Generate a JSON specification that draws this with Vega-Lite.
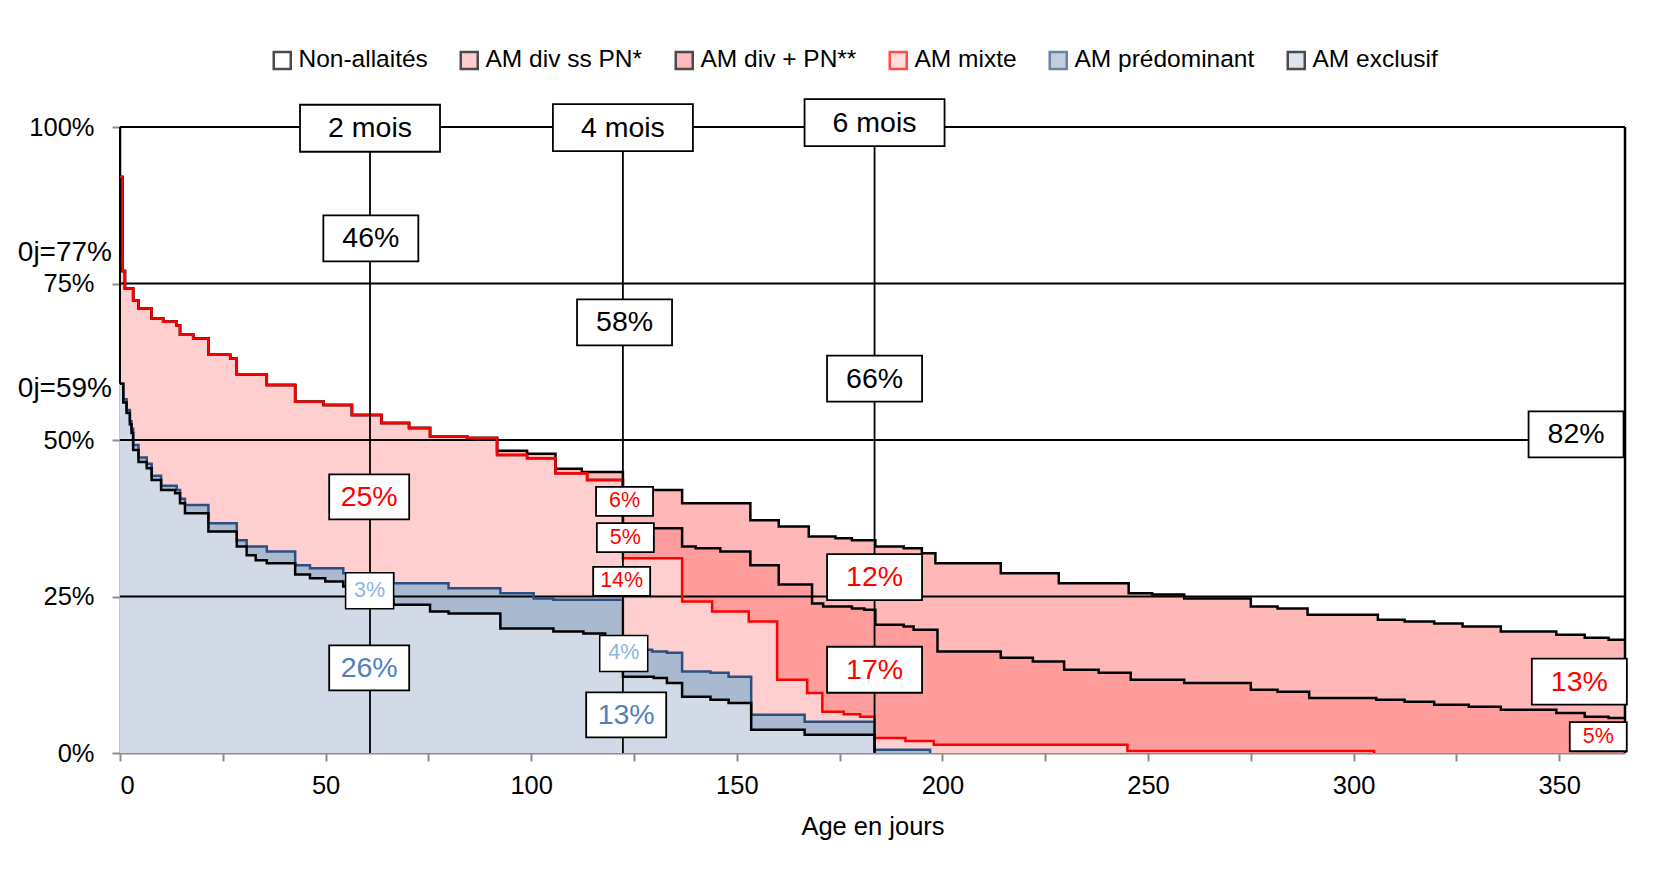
{
  "$schema": "https://vega.github.io/schema/vega-lite/v6.json",
  "width": 1505,
  "height": 626,
  "autosize": {"type": "none"},
  "padding": {"left": 120, "top": 127, "right": 53, "bottom": 139},
  "background": "white",
  "config": {
    "view": {"stroke": null},
    "font": "Liberation Sans",
    "axis": {
      "labelFont": "Liberation Sans", "labelFontSize": 25.5, "labelColor": "black",
      "titleFont": "Liberation Sans", "titleFontSize": 25.5, "titleFontWeight": "normal", "titleColor": "black",
      "domainColor": "#8c8c8c", "domainWidth": 2, "tickColor": "#8c8c8c", "tickWidth": 2, "tickSize": 8, "grid": false
    }
  },
  "datasets": {
    "curves": [
      {"s": "E", "d": 0, "v": 59}, {"s": "E", "d": 0.8, "v": 56}, {"s": "E", "d": 1.6, "v": 54.3}, {"s": "E", "d": 2.4, "v": 52.5}, {"s": "E", "d": 2.8, "v": 51.1}, {"s": "E", "d": 3.2, "v": 48.4}, {"s": "E", "d": 4.5, "v": 46.5}, {"s": "E", "d": 6.5, "v": 45.5}, {"s": "E", "d": 7.7, "v": 43.6}, {"s": "E", "d": 10, "v": 42.0}, {"s": "E", "d": 13.4, "v": 41.5}, {"s": "E", "d": 14.6, "v": 39.9}, {"s": "E", "d": 15.8, "v": 38.3}, {"s": "E", "d": 21.5, "v": 35.4}, {"s": "E", "d": 28.4, "v": 33.0}, {"s": "E", "d": 30.8, "v": 31.6}, {"s": "E", "d": 33, "v": 30.8}, {"s": "E", "d": 35.7, "v": 30.3}, {"s": "E", "d": 42.6, "v": 28.5}, {"s": "E", "d": 46.2, "v": 27.9}, {"s": "E", "d": 49.9, "v": 27.4}, {"s": "E", "d": 54.3, "v": 26.6}, {"s": "E", "d": 57, "v": 26.1}, {"s": "E", "d": 62, "v": 24.5}, {"s": "E", "d": 66.5, "v": 23.7}, {"s": "E", "d": 75.4, "v": 22.6}, {"s": "E", "d": 79.9, "v": 22.3}, {"s": "E", "d": 92.5, "v": 19.9}, {"s": "E", "d": 105.4, "v": 19.4}, {"s": "E", "d": 112.7, "v": 19.1}, {"s": "E", "d": 118, "v": 18.6}, {"s": "E", "d": 122.3, "v": 12.2}, {"s": "E", "d": 129.8, "v": 12.0}, {"s": "E", "d": 133, "v": 11.2}, {"s": "E", "d": 136.7, "v": 9.0}, {"s": "E", "d": 143.6, "v": 8.5}, {"s": "E", "d": 148, "v": 8.0}, {"s": "E", "d": 153.5, "v": 3.7}, {"s": "E", "d": 166.5, "v": 2.9}, {"s": "E", "d": 183.5, "v": 0},

      {"s": "P", "d": 0, "v": 59}, {"s": "P", "d": 0.8, "v": 56.5}, {"s": "P", "d": 1.6, "v": 54.8}, {"s": "P", "d": 2.4, "v": 53}, {"s": "P", "d": 2.8, "v": 51.8}, {"s": "P", "d": 3.2, "v": 49.2}, {"s": "P", "d": 4.5, "v": 47.2}, {"s": "P", "d": 6.5, "v": 46.2}, {"s": "P", "d": 7.7, "v": 44.3}, {"s": "P", "d": 10, "v": 42.7}, {"s": "P", "d": 13.8, "v": 42.0}, {"s": "P", "d": 14.6, "v": 40.6}, {"s": "P", "d": 15.8, "v": 39.6}, {"s": "P", "d": 21.5, "v": 36.7}, {"s": "P", "d": 28.4, "v": 34.0}, {"s": "P", "d": 30.8, "v": 33.0}, {"s": "P", "d": 35.7, "v": 32.2}, {"s": "P", "d": 42.6, "v": 30.0}, {"s": "P", "d": 46.2, "v": 29.5}, {"s": "P", "d": 54.3, "v": 28.7}, {"s": "P", "d": 66.5, "v": 27.1}, {"s": "P", "d": 79.9, "v": 26.3}, {"s": "P", "d": 92.5, "v": 25.5}, {"s": "P", "d": 100.6, "v": 24.7}, {"s": "P", "d": 105.4, "v": 24.5}, {"s": "P", "d": 122.3, "v": 16.5}, {"s": "P", "d": 129.4, "v": 16.2}, {"s": "P", "d": 133, "v": 16.0}, {"s": "P", "d": 136.7, "v": 13.0}, {"s": "P", "d": 143.6, "v": 12.8}, {"s": "P", "d": 148, "v": 12.2}, {"s": "P", "d": 153.5, "v": 6.1}, {"s": "P", "d": 166.5, "v": 5.0}, {"s": "P", "d": 183.5, "v": 0.5}, {"s": "P", "d": 197, "v": 0},

      {"s": "M", "d": 0, "v": 92}, {"s": "M", "d": 0.6, "v": 77}, {"s": "M", "d": 1.2, "v": 74.2}, {"s": "M", "d": 3.2, "v": 72.3}, {"s": "M", "d": 4.5, "v": 71.0}, {"s": "M", "d": 7.7, "v": 69.4}, {"s": "M", "d": 10.5, "v": 68.9}, {"s": "M", "d": 13.8, "v": 68.3}, {"s": "M", "d": 14.6, "v": 66.8}, {"s": "M", "d": 17.8, "v": 66.2}, {"s": "M", "d": 21.5, "v": 63.6}, {"s": "M", "d": 26.8, "v": 63.0}, {"s": "M", "d": 28.4, "v": 60.5}, {"s": "M", "d": 35.7, "v": 58.8}, {"s": "M", "d": 42.6, "v": 56.1}, {"s": "M", "d": 49.5, "v": 55.6}, {"s": "M", "d": 56.4, "v": 54.0}, {"s": "M", "d": 63.6, "v": 52.7}, {"s": "M", "d": 70.3, "v": 51.9}, {"s": "M", "d": 75.4, "v": 50.6}, {"s": "M", "d": 84.4, "v": 50.3}, {"s": "M", "d": 91.7, "v": 47.6}, {"s": "M", "d": 99, "v": 47.1}, {"s": "M", "d": 105.9, "v": 44.7}, {"s": "M", "d": 113.6, "v": 43.6}, {"s": "M", "d": 122.3, "v": 31.1}, {"s": "M", "d": 136.7, "v": 24.2}, {"s": "M", "d": 144, "v": 22.6}, {"s": "M", "d": 152.9, "v": 21.0}, {"s": "M", "d": 159.8, "v": 11.7}, {"s": "M", "d": 167.1, "v": 9.6}, {"s": "M", "d": 170.8, "v": 6.6}, {"s": "M", "d": 176, "v": 6.2}, {"s": "M", "d": 180, "v": 5.8}, {"s": "M", "d": 183.5, "v": 2.4}, {"s": "M", "d": 191, "v": 1.9}, {"s": "M", "d": 197.9, "v": 1.3}, {"s": "M", "d": 245, "v": 0.3}, {"s": "M", "d": 305, "v": 0},

      {"s": "D1", "d": 0, "v": 92}, {"s": "D1", "d": 0.6, "v": 77}, {"s": "D1", "d": 1.2, "v": 74.2}, {"s": "D1", "d": 3.2, "v": 72.3}, {"s": "D1", "d": 4.5, "v": 71.0}, {"s": "D1", "d": 7.7, "v": 69.4}, {"s": "D1", "d": 10.5, "v": 68.9}, {"s": "D1", "d": 13.8, "v": 68.3}, {"s": "D1", "d": 14.6, "v": 66.8}, {"s": "D1", "d": 17.8, "v": 66.2}, {"s": "D1", "d": 21.5, "v": 63.6}, {"s": "D1", "d": 26.8, "v": 63.0}, {"s": "D1", "d": 28.4, "v": 60.5}, {"s": "D1", "d": 35.7, "v": 58.8}, {"s": "D1", "d": 42.6, "v": 56.1}, {"s": "D1", "d": 49.5, "v": 55.6}, {"s": "D1", "d": 56.4, "v": 54.0}, {"s": "D1", "d": 63.6, "v": 52.7}, {"s": "D1", "d": 70.3, "v": 51.9}, {"s": "D1", "d": 75.4, "v": 50.6}, {"s": "D1", "d": 84.4, "v": 50.3}, {"s": "D1", "d": 91.7, "v": 47.6}, {"s": "D1", "d": 99, "v": 47.1}, {"s": "D1", "d": 105.9, "v": 44.7}, {"s": "D1", "d": 113.6, "v": 43.6}, {"s": "D1", "d": 122.3, "v": 35.9}, {"s": "D1", "d": 136.7, "v": 33.0}, {"s": "D1", "d": 140, "v": 32.7}, {"s": "D1", "d": 146, "v": 32.2}, {"s": "D1", "d": 153.3, "v": 30.0}, {"s": "D1", "d": 160.2, "v": 26.9}, {"s": "D1", "d": 168.3, "v": 23.9}, {"s": "D1", "d": 171, "v": 23.4}, {"s": "D1", "d": 178, "v": 23.1}, {"s": "D1", "d": 181, "v": 22.9}, {"s": "D1", "d": 183.7, "v": 20.5}, {"s": "D1", "d": 190.6, "v": 20.2}, {"s": "D1", "d": 193, "v": 19.7}, {"s": "D1", "d": 198.8, "v": 16.2}, {"s": "D1", "d": 214.2, "v": 15.2}, {"s": "D1", "d": 222, "v": 14.6}, {"s": "D1", "d": 229.6, "v": 13.3}, {"s": "D1", "d": 238, "v": 12.8}, {"s": "D1", "d": 245.8, "v": 11.7}, {"s": "D1", "d": 258.8, "v": 11.2}, {"s": "D1", "d": 275, "v": 10.1}, {"s": "D1", "d": 281.5, "v": 9.8}, {"s": "D1", "d": 289.2, "v": 8.8}, {"s": "D1", "d": 305.5, "v": 8.5}, {"s": "D1", "d": 312.4, "v": 8.2}, {"s": "D1", "d": 319.6, "v": 7.7}, {"s": "D1", "d": 328, "v": 7.4}, {"s": "D1", "d": 335.8, "v": 6.9}, {"s": "D1", "d": 349.3, "v": 6.4}, {"s": "D1", "d": 356.2, "v": 5.8}, {"s": "D1", "d": 362, "v": 5.6}, {"s": "D1", "d": 366, "v": 5.6},

      {"s": "D2", "d": 0, "v": 92}, {"s": "D2", "d": 0.6, "v": 77}, {"s": "D2", "d": 1.2, "v": 74.2}, {"s": "D2", "d": 3.2, "v": 72.3}, {"s": "D2", "d": 4.5, "v": 71.0}, {"s": "D2", "d": 7.7, "v": 69.4}, {"s": "D2", "d": 10.5, "v": 68.9}, {"s": "D2", "d": 13.8, "v": 68.3}, {"s": "D2", "d": 14.6, "v": 66.8}, {"s": "D2", "d": 17.8, "v": 66.2}, {"s": "D2", "d": 21.5, "v": 63.6}, {"s": "D2", "d": 26.8, "v": 63.0}, {"s": "D2", "d": 28.4, "v": 60.5}, {"s": "D2", "d": 35.7, "v": 58.8}, {"s": "D2", "d": 42.6, "v": 56.1}, {"s": "D2", "d": 49.5, "v": 55.6}, {"s": "D2", "d": 56.4, "v": 54.0}, {"s": "D2", "d": 63.6, "v": 52.7}, {"s": "D2", "d": 70.3, "v": 51.9}, {"s": "D2", "d": 75.4, "v": 50.6}, {"s": "D2", "d": 84.4, "v": 50.3}, {"s": "D2", "d": 91.7, "v": 48.3}, {"s": "D2", "d": 99, "v": 47.8}, {"s": "D2", "d": 105.9, "v": 45.4}, {"s": "D2", "d": 112.3, "v": 44.9}, {"s": "D2", "d": 122.3, "v": 42.0}, {"s": "D2", "d": 136.7, "v": 39.9}, {"s": "D2", "d": 153.3, "v": 37.2}, {"s": "D2", "d": 160.2, "v": 36.2}, {"s": "D2", "d": 167.5, "v": 34.6}, {"s": "D2", "d": 174, "v": 34.3}, {"s": "D2", "d": 178, "v": 34.0}, {"s": "D2", "d": 183.7, "v": 33.0}, {"s": "D2", "d": 190.6, "v": 32.7}, {"s": "D2", "d": 195, "v": 31.9}, {"s": "D2", "d": 198.3, "v": 30.3}, {"s": "D2", "d": 214.2, "v": 28.7}, {"s": "D2", "d": 228.3, "v": 27.1}, {"s": "D2", "d": 245.3, "v": 25.5}, {"s": "D2", "d": 251, "v": 25.3}, {"s": "D2", "d": 258.8, "v": 24.7}, {"s": "D2", "d": 275, "v": 23.4}, {"s": "D2", "d": 281.5, "v": 23.1}, {"s": "D2", "d": 288.8, "v": 22.1}, {"s": "D2", "d": 305.9, "v": 21.3}, {"s": "D2", "d": 312.4, "v": 21.0}, {"s": "D2", "d": 319.6, "v": 20.7}, {"s": "D2", "d": 326.5, "v": 20.2}, {"s": "D2", "d": 335.8, "v": 19.4}, {"s": "D2", "d": 349.3, "v": 18.9}, {"s": "D2", "d": 356.2, "v": 18.4}, {"s": "D2", "d": 362, "v": 18.1}, {"s": "D2", "d": 366, "v": 18.1}
    ],
    "boxes": [
      {"l": "2 mois", "d": 60.8, "v": 99.8, "b": "A", "t": "k"},
      {"l": "4 mois", "d": 122.3, "v": 99.9, "b": "A", "t": "k"},
      {"l": "6 mois", "d": 183.5, "v": 100.7, "b": "A", "t": "k"},
      {"l": "46%", "d": 61.0, "v": 82.2, "b": "B", "t": "k"},
      {"l": "58%", "d": 122.7, "v": 68.8, "b": "B", "t": "k"},
      {"l": "66%", "d": 183.5, "v": 59.8, "b": "B", "t": "k"},
      {"l": "82%", "d": 354.1, "v": 50.9, "b": "B", "t": "k"},
      {"l": "12%", "d": 183.5, "v": 28.1, "b": "B", "t": "r"},
      {"l": "17%", "d": 183.5, "v": 13.3, "b": "B", "t": "r"},
      {"l": "13%", "d": 354.9, "v": 11.4, "b": "B", "t": "r"},
      {"l": "25%", "d": 60.6, "v": 40.9, "b": "C", "t": "r"},
      {"l": "26%", "d": 60.6, "v": 13.6, "b": "C", "t": "b"},
      {"l": "13%", "d": 123.1, "v": 6.1, "b": "C", "t": "b"},
      {"l": "6%", "d": 122.7, "v": 40.2, "b": "D", "t": "r"},
      {"l": "5%", "d": 122.9, "v": 34.4, "b": "D", "t": "r"},
      {"l": "14%", "d": 122.0, "v": 27.4, "b": "D", "t": "r"},
      {"l": "5%", "d": 359.5, "v": 2.6, "b": "D", "t": "r"},
      {"l": "3%", "d": 60.7, "v": 25.9, "b": "E", "t": "lb"},
      {"l": "4%", "d": 122.5, "v": 15.9, "b": "E", "t": "lb"}
    ]
  },
  "layer": [
    {
      "data": {"name": "curves"},
      "transform": [{"filter": "datum.s == 'D2'"}],
      "mark": {"type": "area", "interpolate": "step-after", "fill": "#ffb8b8"},
      "encoding": {
        "x": {"field": "d", "type": "quantitative", "scale": {"domain": [0, 366], "nice": false, "zero": false},
          "axis": {"values": [0, 25, 50, 75, 100, 125, 150, 175, 200, 225, 250, 275, 300, 325, 350], "labelExpr": "datum.value % 50 == 0 ? datum.label : ''", "title": "Age en jours", "labelPadding": 12, "titlePadding": 16}},
        "y": {"field": "v", "type": "quantitative", "scale": {"domain": [0, 100], "nice": false},
          "axis": {"values": [0, 25, 50, 75, 100], "labelExpr": "datum.value + '%'", "title": null, "labelPadding": 18}}
      }
    },
    {
      "data": {"name": "curves"},
      "transform": [{"filter": "datum.s == 'D1'"}],
      "mark": {"type": "area", "interpolate": "step-after", "fill": "#ff9c9c"},
      "encoding": {"x": {"field": "d", "type": "quantitative"}, "y": {"field": "v", "type": "quantitative"}}
    },
    {
      "data": {"name": "curves"},
      "transform": [{"filter": "datum.s == 'M'"}],
      "mark": {"type": "area", "interpolate": "step-after", "fill": "#ffcfcf"},
      "encoding": {"x": {"field": "d", "type": "quantitative"}, "y": {"field": "v", "type": "quantitative"}}
    },
    {
      "data": {"name": "curves"},
      "transform": [{"filter": "datum.s == 'P'"}],
      "mark": {"type": "area", "interpolate": "step-after", "fill": "#a9b9cf"},
      "encoding": {"x": {"field": "d", "type": "quantitative"}, "y": {"field": "v", "type": "quantitative"}}
    },
    {
      "data": {"name": "curves"},
      "transform": [{"filter": "datum.s == 'E'"}],
      "mark": {"type": "area", "interpolate": "step-after", "fill": "#d1dae6"},
      "encoding": {"x": {"field": "d", "type": "quantitative"}, "y": {"field": "v", "type": "quantitative"}}
    },
    {
      "data": {"values": [{"v": 25}, {"v": 50}, {"v": 75}, {"v": 100}]},
      "mark": {"type": "rule", "color": "black", "strokeWidth": 2},
      "encoding": {"y": {"field": "v", "type": "quantitative"}}
    },
    {
      "data": {"values": [{"d": 366}]},
      "mark": {"type": "rule", "color": "black", "strokeWidth": 2.5},
      "encoding": {"x": {"field": "d", "type": "quantitative"}}
    },
    {
      "data": {"values": [{"d": 0, "v": 59, "v2": 100}]},
      "mark": {"type": "rule", "color": "black", "strokeWidth": 2},
      "encoding": {"x": {"field": "d", "type": "quantitative"}, "y": {"field": "v", "type": "quantitative"}, "y2": {"field": "v2"}}
    },
    {
      "data": {"name": "curves"},
      "transform": [{"filter": "datum.s == 'D2'"}],
      "mark": {"type": "line", "interpolate": "step-after", "color": "black", "strokeWidth": 2.5},
      "encoding": {"x": {"field": "d", "type": "quantitative"}, "y": {"field": "v", "type": "quantitative"}}
    },
    {
      "data": {"name": "curves"},
      "transform": [{"filter": "datum.s == 'D1'"}],
      "mark": {"type": "line", "interpolate": "step-after", "color": "black", "strokeWidth": 2.5},
      "encoding": {"x": {"field": "d", "type": "quantitative"}, "y": {"field": "v", "type": "quantitative"}}
    },
    {
      "data": {"name": "curves"},
      "transform": [{"filter": "datum.s == 'M'"}],
      "mark": {"type": "line", "interpolate": "step-after", "color": "#ff0000", "strokeWidth": 2.5},
      "encoding": {"x": {"field": "d", "type": "quantitative"}, "y": {"field": "v", "type": "quantitative"}}
    },
    {
      "data": {"name": "curves"},
      "transform": [{"filter": "datum.s == 'P'"}],
      "mark": {"type": "line", "interpolate": "step-after", "color": "#2b4f81", "strokeWidth": 2.5},
      "encoding": {"x": {"field": "d", "type": "quantitative"}, "y": {"field": "v", "type": "quantitative"}}
    },
    {
      "data": {"name": "curves"},
      "transform": [{"filter": "datum.s == 'E'"}],
      "mark": {"type": "line", "interpolate": "step-after", "color": "black", "strokeWidth": 2.5},
      "encoding": {"x": {"field": "d", "type": "quantitative"}, "y": {"field": "v", "type": "quantitative"}}
    },
    {
      "data": {"values": [{"d": 60.8}, {"d": 122.3}, {"d": 183.5}]},
      "mark": {"type": "rule", "color": "black", "strokeWidth": 1.8},
      "encoding": {"x": {"field": "d", "type": "quantitative"}}
    },
    {
      "data": {"name": "boxes"},
      "transform": [{"filter": "datum.b == 'A'"}],
      "mark": {"type": "point", "shape": "M-1,-0.336H1V0.336H-1Z", "size": 19600, "filled": true, "fill": "white", "stroke": "black", "strokeWidth": 1.8, "opacity": 1},
      "encoding": {"x": {"field": "d", "type": "quantitative"}, "y": {"field": "v", "type": "quantitative"}}
    },
    {
      "data": {"name": "boxes"},
      "transform": [{"filter": "datum.b == 'B'"}],
      "mark": {"type": "point", "shape": "M-1,-0.484H1V0.484H-1Z", "size": 9025, "filled": true, "fill": "white", "stroke": "black", "strokeWidth": 1.8, "opacity": 1},
      "encoding": {"x": {"field": "d", "type": "quantitative"}, "y": {"field": "v", "type": "quantitative"}}
    },
    {
      "data": {"name": "boxes"},
      "transform": [{"filter": "datum.b == 'C'"}],
      "mark": {"type": "point", "shape": "M-1,-0.5625H1V0.5625H-1Z", "size": 6400, "filled": true, "fill": "white", "stroke": "black", "strokeWidth": 1.8, "opacity": 1},
      "encoding": {"x": {"field": "d", "type": "quantitative"}, "y": {"field": "v", "type": "quantitative"}}
    },
    {
      "data": {"name": "boxes"},
      "transform": [{"filter": "datum.b == 'D'"}],
      "mark": {"type": "point", "shape": "M-1,-0.509H1V0.509H-1Z", "size": 3249, "filled": true, "fill": "white", "stroke": "black", "strokeWidth": 1.8, "opacity": 1},
      "encoding": {"x": {"field": "d", "type": "quantitative"}, "y": {"field": "v", "type": "quantitative"}}
    },
    {
      "data": {"name": "boxes"},
      "transform": [{"filter": "datum.b == 'E'"}],
      "mark": {"type": "point", "shape": "M-1,-0.75H1V0.75H-1Z", "size": 2304, "filled": true, "fill": "white", "stroke": "black", "strokeWidth": 1.5, "opacity": 1},
      "encoding": {"x": {"field": "d", "type": "quantitative"}, "y": {"field": "v", "type": "quantitative"}}
    },
    {
      "data": {"name": "boxes"},
      "transform": [{"filter": "datum.b == 'A' || datum.b == 'B' || datum.b == 'C'"}],
      "mark": {"type": "text", "font": "Liberation Sans", "fontSize": 28.5, "align": "center", "baseline": "middle"},
      "encoding": {
        "x": {"field": "d", "type": "quantitative"}, "y": {"field": "v", "type": "quantitative"},
        "text": {"field": "l"},
        "color": {"field": "t", "type": "nominal", "scale": {"domain": ["k", "r", "b", "lb"], "range": ["#000000", "#ff0000", "#4f81bd", "#8eb4e3"]}, "legend": null}
      }
    },
    {
      "data": {"name": "boxes"},
      "transform": [{"filter": "datum.b == 'D' || datum.b == 'E'"}],
      "mark": {"type": "text", "font": "Liberation Sans", "fontSize": 21.5, "align": "center", "baseline": "middle"},
      "encoding": {
        "x": {"field": "d", "type": "quantitative"}, "y": {"field": "v", "type": "quantitative"},
        "text": {"field": "l"},
        "color": {"field": "t", "type": "nominal", "scale": {"domain": ["k", "r", "b", "lb"], "range": ["#000000", "#ff0000", "#4f81bd", "#8eb4e3"]}, "legend": null}
      }
    },
    {
      "data": {"values": [{"l": "0j=77%", "d": 0, "v": 77}]},
      "mark": {"type": "text", "font": "Liberation Sans", "fontSize": 28, "align": "right", "baseline": "middle", "dx": -8, "dy": -18, "color": "black"},
      "encoding": {"x": {"field": "d", "type": "quantitative"}, "y": {"field": "v", "type": "quantitative"}, "text": {"field": "l"}}
    },
    {
      "data": {"values": [{"l": "0j=59%", "d": 0, "v": 59}]},
      "mark": {"type": "text", "font": "Liberation Sans", "fontSize": 28, "align": "right", "baseline": "middle", "dx": -8, "dy": 5, "color": "black"},
      "encoding": {"x": {"field": "d", "type": "quantitative"}, "y": {"field": "v", "type": "quantitative"}, "text": {"field": "l"}}
    },
    {
      "data": {"values": []},
      "mark": {"type": "point", "shape": "square", "filled": true},
      "encoding": {
        "fill": {"field": "cat", "type": "nominal",
          "scale": {"domain": ["Non-allaités", "AM div ss PN*", "AM div + PN**", "AM mixte", "AM prédominant", "AM exclusif"], "range": ["#ffffff", "#ffb8b8", "#ff9c9c", "#ffcfcf", "#a9b9cf", "#d1dae6"]},
          "legend": {"orient": "none", "legendX": 150, "legendY": -79, "direction": "horizontal", "title": null, "symbolType": "square", "symbolSize": 289, "symbolStrokeWidth": 2.5, "labelFont": "Liberation Sans", "labelFontSize": 24.5, "labelColor": "black", "columnPadding": 27, "labelOffset": 4, "labelLimit": 400}},
        "stroke": {"field": "cat", "type": "nominal",
          "scale": {"domain": ["Non-allaités", "AM div ss PN*", "AM div + PN**", "AM mixte", "AM prédominant", "AM exclusif"], "range": ["#000000", "#000000", "#000000", "#ff0000", "#2b4f81", "#000000"]},
          "legend": {"orient": "none", "legendX": 150, "legendY": -79, "direction": "horizontal", "title": null, "symbolType": "square", "symbolSize": 289, "symbolStrokeWidth": 2.5, "labelFont": "Liberation Sans", "labelFontSize": 24.5, "labelColor": "black", "columnPadding": 27, "labelOffset": 4, "labelLimit": 400}}
      }
    }
  ]
}
